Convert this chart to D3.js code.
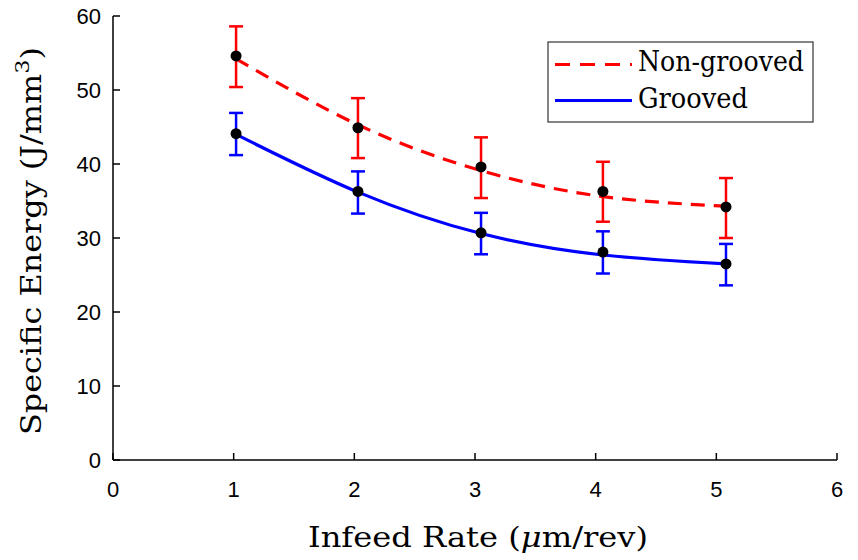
<!DOCTYPE html>
<html>
<head>
    <title>specific energy</title>
    <script src="https://d3js.org/d3.v7.min.js"></script>
    <style>
        body { margin: 0; background: #fff; }
        .tick-label { font-family: "Liberation Sans", Arial, sans-serif; font-size: 22px; fill: #000; }
        .axis-title, .legend-text { font-family: "DejaVu Serif", serif; font-size: 27px; fill: #000; }
        .axis-line { stroke: #000; stroke-width: 1.5; fill: none; }
    </style>
</head>
<body>
    <script>
        // measured values
        var infeed = [1.02, 2.03, 3.05, 4.06, 5.08];
        var nonGrooved = [54.6, 44.9, 39.6, 36.3, 34.2];
        var nonGroovedLo = [50.4, 40.8, 35.4, 32.2, 30.0];
        var nonGroovedHi = [58.6, 48.9, 43.6, 40.3, 38.1];
        var grooved = [44.1, 36.3, 30.7, 28.1, 26.5];
        var groovedLo = [41.2, 33.3, 27.8, 25.2, 23.6];
        var groovedHi = [46.9, 39.0, 33.4, 30.9, 29.2];

        // fitted trend lines
        var fitX = [1.02, 2.03, 3.05, 4.06, 5.08];
        var nonGroovedFit = [54.2, 45.3, 39.1, 35.6, 34.3];
        var groovedFit = [44.0, 36.2, 30.6, 27.7, 26.5];

        var xTicks = [0, 1, 2, 3, 4, 5, 6];
        var yTicks = [0, 10, 20, 30, 40, 50, 60];

        var width = 858, height = 560;
        var svg = d3.select("body").append("svg")
            .attr("width", width).attr("height", height);

        var x = d3.scaleLinear().domain([0, 6]).range([113, 837]);
        var y = d3.scaleLinear().domain([0, 60]).range([460, 16]);

        // axes (left + bottom only, ticks inward)
        svg.append("line").attr("class", "axis-line")
            .attr("x1", x(0)).attr("x2", x(6)).attr("y1", y(0)).attr("y2", y(0));
        svg.append("line").attr("class", "axis-line")
            .attr("x1", x(0)).attr("x2", x(0)).attr("y1", y(0)).attr("y2", y(60));

        svg.selectAll(".xtick").data(xTicks).enter().append("line")
            .attr("class", "axis-line")
            .attr("x1", function (d) { return x(d); }).attr("x2", function (d) { return x(d); })
            .attr("y1", y(0)).attr("y2", y(0) - 7);
        svg.selectAll(".ytick").data(yTicks).enter().append("line")
            .attr("class", "axis-line")
            .attr("x1", x(0)).attr("x2", x(0) + 7)
            .attr("y1", function (d) { return y(d); }).attr("y2", function (d) { return y(d); });

        svg.selectAll(".xlab").data(xTicks).enter().append("text")
            .attr("class", "tick-label")
            .attr("text-anchor", "middle")
            .attr("x", function (d) { return x(d); })
            .attr("y", 497)
            .text(function (d) { return d; });
        svg.selectAll(".ylab").data(yTicks).enter().append("text")
            .attr("class", "tick-label")
            .attr("text-anchor", "end")
            .attr("x", x(0) - 12)
            .attr("y", function (d) { return y(d) + 8; })
            .text(function (d) { return d; });

        // axis titles
        var xt = svg.append("text").attr("class", "axis-title")
            .attr("text-anchor", "middle").attr("x", 478).attr("y", 547)
            .attr("textLength", 340).attr("lengthAdjust", "spacingAndGlyphs");
        xt.append("tspan").text("Infeed Rate (");
        xt.append("tspan").attr("font-style", "italic").text("\u03bc");
        xt.append("tspan").text("m/rev)");

        var yt = svg.append("text").attr("class", "axis-title")
            .attr("text-anchor", "middle")
            .attr("transform", "translate(41," + 241 + ") rotate(-90)")
            .attr("textLength", 388).attr("lengthAdjust", "spacingAndGlyphs");
        yt.append("tspan").text("Specific Energy (J/mm");
        yt.append("tspan").attr("font-size", "19px").attr("dy", -12).text("3");
        yt.append("tspan").attr("dy", 12).text(")");

        // fits
        var line = d3.line().curve(d3.curveNatural)
            .x(function (d) { return x(d[0]); })
            .y(function (d) { return y(d[1]); });

        svg.append("path")
            .datum(d3.zip(fitX, nonGroovedFit))
            .attr("d", line)
            .attr("fill", "none").attr("stroke", "#ff0000")
            .attr("stroke-width", 3.2).attr("stroke-dasharray", "14,9");

        svg.append("path")
            .datum(d3.zip(fitX, groovedFit))
            .attr("d", line)
            .attr("fill", "none").attr("stroke", "#0000ff")
            .attr("stroke-width", 3.2);

        // error bars
        function errorBars(lo, hi, color) {
            var g = svg.append("g").attr("stroke", color).attr("stroke-width", 2.5).attr("fill", "none");
            var rows = d3.range(infeed.length);
            g.selectAll(".v").data(rows).enter().append("line")
                .attr("x1", function (i) { return x(infeed[i]); })
                .attr("x2", function (i) { return x(infeed[i]); })
                .attr("y1", function (i) { return y(lo[i]); })
                .attr("y2", function (i) { return y(hi[i]); });
            g.selectAll(".lo").data(rows).enter().append("line")
                .attr("x1", function (i) { return x(infeed[i]) - 7; })
                .attr("x2", function (i) { return x(infeed[i]) + 7; })
                .attr("y1", function (i) { return y(lo[i]); })
                .attr("y2", function (i) { return y(lo[i]); });
            g.selectAll(".hi").data(rows).enter().append("line")
                .attr("x1", function (i) { return x(infeed[i]) - 7; })
                .attr("x2", function (i) { return x(infeed[i]) + 7; })
                .attr("y1", function (i) { return y(hi[i]); })
                .attr("y2", function (i) { return y(hi[i]); });
        }
        errorBars(nonGroovedLo, nonGroovedHi, "#ff0000");
        errorBars(groovedLo, groovedHi, "#0000ff");

        // markers
        [nonGrooved, grooved].forEach(function (vals) {
            svg.append("g").selectAll("circle").data(vals).enter().append("circle")
                .attr("cx", function (d, i) { return x(infeed[i]); })
                .attr("cy", function (d) { return y(d); })
                .attr("r", 5.5).attr("fill", "#000");
        });

        // legend
        var lg = svg.append("g");
        lg.append("rect").attr("x", 548).attr("y", 42).attr("width", 265).attr("height", 80)
            .attr("fill", "#fff").attr("stroke", "#333").attr("stroke-width", 1.2);
        lg.append("line").attr("x1", 555).attr("x2", 632).attr("y1", 64.5).attr("y2", 64.5)
            .attr("stroke", "#ff0000").attr("stroke-width", 3.2).attr("stroke-dasharray", "15,10");
        lg.append("line").attr("x1", 555).attr("x2", 632).attr("y1", 100.5).attr("y2", 100.5)
            .attr("stroke", "#0000ff").attr("stroke-width", 3.2);
        lg.append("text").attr("class", "legend-text").attr("x", 638).attr("y", 71)
            .attr("textLength", 166).attr("lengthAdjust", "spacingAndGlyphs").text("Non-grooved");
        lg.append("text").attr("class", "legend-text").attr("x", 638).attr("y", 108)
            .attr("textLength", 110).attr("lengthAdjust", "spacingAndGlyphs").text("Grooved");
    </script>
</body>
</html>
